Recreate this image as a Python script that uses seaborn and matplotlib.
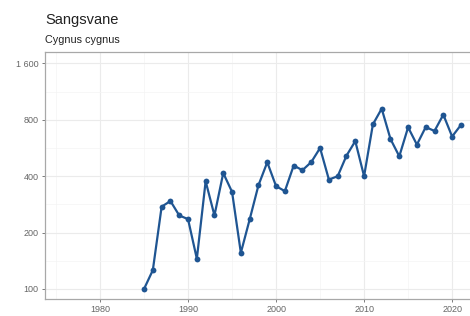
import matplotlib
matplotlib.use("Agg")
import matplotlib.pyplot as plt
import matplotlib.ticker as mticker
import seaborn as sns
import pandas as pd
import numpy as np

years = list(range(1985, 2022))
counts = [100, 126, 275, 295, 247, 236, 145, 376, 247, 416, 330, 156, 235, 358,
          475, 354, 333, 456, 431, 476, 566, 384, 400, 515, 616, 400, 757, 918,
          632, 511, 730, 590, 732, 698, 853, 652, 751]
y_ticks = [100, 200, 400, 800, 1600]
x_ticks = [1980, 1990, 2000, 2010, 2020]
title = "Sangsvane"
subtitle = "Cygnus cygnus"

df = pd.DataFrame({"year": years, "count": counts})

sns.set_theme(style="white")
plt.rcParams["font.family"] = ["Liberation Sans", "DejaVu Sans"]

fig = plt.figure(figsize=(4.70, 3.16), dpi=100)
W, H = 470, 316
ax = fig.add_axes([45 / W, 1 - 299 / H, (475 - 45) / W, (299 - 52) / H])

line_col = "#1f5592"
sns.lineplot(data=df, x="year", y="count", ax=ax, color=line_col, linewidth=1.6,
             marker="o", markersize=4.2, markeredgewidth=0, markerfacecolor=line_col)

ax.set_yscale("log", base=2)
ax.set_xlim(1973.75, 2022.6)
ax.set_ylim(88.4, 1843)

ax.set_yticks(y_ticks)
ax.yaxis.set_major_formatter(mticker.FuncFormatter(lambda v, p: f"{int(round(v)):,}".replace(",", " ")))
ax.yaxis.set_minor_locator(mticker.FixedLocator([100 * 2 ** (k + 0.5) for k in range(-1, 5)]))
ax.yaxis.set_minor_formatter(mticker.NullFormatter())
ax.set_xticks(x_ticks)
ax.xaxis.set_minor_locator(mticker.FixedLocator([1975, 1985, 1995, 2005, 2015]))

ax.grid(True, which="major", color="#ebebeb", linewidth=0.8)
ax.grid(True, which="minor", color="#f4f4f4", linewidth=0.5)
ax.set_axisbelow(True)

for s in ["left", "bottom", "top"]:
    ax.spines[s].set_color("#a8a8a8")
    ax.spines[s].set_linewidth(0.9)
ax.spines["right"].set_visible(False)

ax.tick_params(axis="both", which="major", length=2.5, width=0.6, color="#666666",
               labelsize=6.5, labelcolor="#666666", pad=2, left=True, bottom=True)
ax.tick_params(axis="both", which="minor", length=0)
ax.set_xlabel("")
ax.set_ylabel("")

fig.text(45 / W, 1 - 20 / H, title, fontsize=10.5, color="#222222", va="center", ha="left")
fig.text(45 / W, 1 - 40 / H, subtitle, fontsize=7.8, color="#222222", va="center", ha="left")

fig.savefig("out.png", dpi=100)
